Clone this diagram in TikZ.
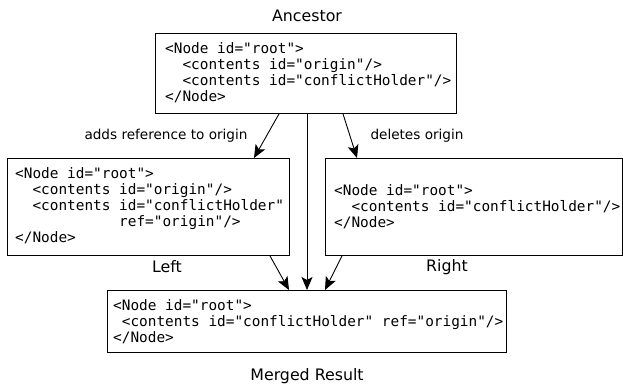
\documentclass[tikz,border=0pt]{standalone}
\usepackage{fontspec}
\setmainfont{DejaVu Sans}
\setmonofont{DejaVu Sans Mono}
\usetikzlibrary{arrows.meta}
\begin{document}
\begin{tikzpicture}[x=1pt,y=1pt,
  box/.style={draw=black, line width=0.9pt, inner sep=0pt, anchor=north west},
  code/.style={anchor=north west, inner sep=0pt, align=left, font=\ttfamily\fontsize{14.4}{16.2}\selectfont},
  title/.style={font=\fontsize{15.8}{18}\selectfont},
  elabel/.style={font=\fontsize{13.6}{16}\selectfont},
  arr/.style={draw=black, line width=0.9pt, -{Stealth[length=13pt,width=11pt,inset=3pt]}}
]
\useasboundingbox (0,0) rectangle (623,-383);
% boxes
\node[box, minimum width=301pt, minimum height=80pt] (anc) at (155,-33) {};
\node[box, minimum width=282pt, minimum height=97pt] (left) at (7,-158) {};
\node[box, minimum width=297pt, minimum height=97pt] (right) at (325,-158) {};
\node[box, minimum width=399pt, minimum height=62pt] (merged) at (107,-290) {};
% code texts
\node[code] (anctext) at (165,-42) {<Node id="root">\\
\ \ <contents id="origin"/>\\
\ \ <contents id="conflictHolder"/>\\
</Node>};
\node[code] (lefttext) at (15,-167) {<Node id="root">\\
\ \ <contents id="origin"/>\\
\ \ <contents id="conflictHolder"\\
\ \ \ \ \ \ \ \ \ \ \ \ ref="origin"/>\\
</Node>};
\node[code] (righttext) at (334,-184) {<Node id="root">\\
\ \ <contents id="conflictHolder"/>\\
</Node>};
\node[code] (mergedtext) at (113,-299) {<Node id="root">\\
\ <contents id="conflictHolder" ref="origin"/>\\
</Node>};
% titles
\node[title] (tanc) at (307,-16) {Ancestor};
\node[title] (tleft) at (167,-267) {Left};
\node[title] (tright) at (447,-267) {Right};
\node[title] (tmerged) at (307,-376) {Merged Result};
% edge labels
\node[elabel] (ladd) at (166,-136) {adds reference to origin};
\node[elabel] (ldel) at (417,-136) {deletes origin};
% arrows
\draw[arr] ([xshift=124pt]anc.south west) -- ([xshift=247pt]left.north west);
\draw[arr] ([xshift=152pt]anc.south west) -- ([xshift=200pt]merged.north west);
\draw[arr] ([xshift=188pt]anc.south west) -- ([xshift=32pt]right.north west);
\draw[arr] ([xshift=263pt]left.south west) -- ([xshift=182pt]merged.north west);
\draw[arr] ([xshift=17pt]right.south west) -- ([xshift=218pt]merged.north west);
\end{tikzpicture}
\end{document}
